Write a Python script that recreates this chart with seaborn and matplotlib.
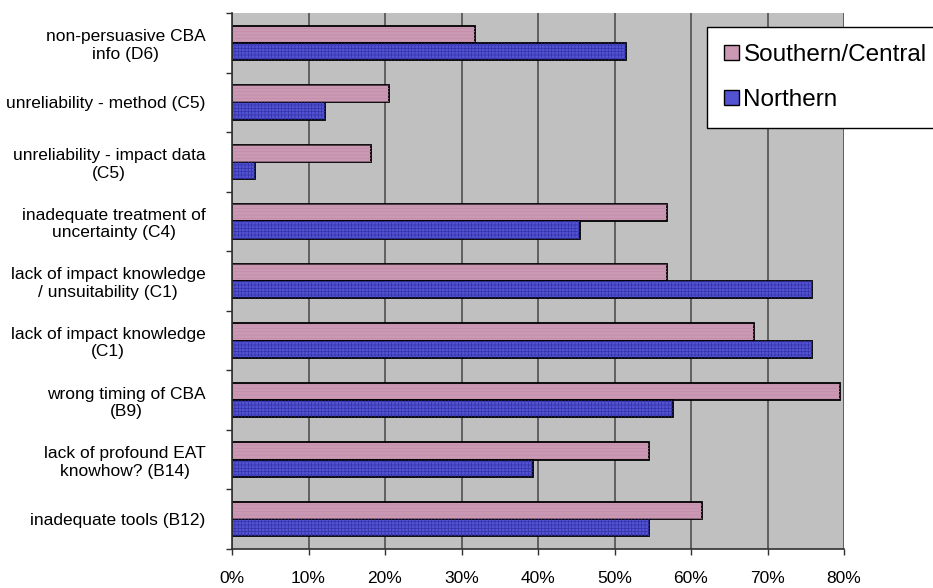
import matplotlib
matplotlib.use("Agg")
import matplotlib.pyplot as plt
import matplotlib.ticker as mticker
from matplotlib.patches import Rectangle, Patch
import seaborn as sns
import pandas as pd

# Survey results: share of respondents naming each obstacle
categories = [
    "non-persuasive CBA\ninfo (D6)",
    "unreliability - method (C5)",
    "unreliability - impact data\n(C5)",
    "inadequate treatment of\nuncertainty (C4)",
    "lack of impact knowledge\n/ unsuitability (C1)",
    "lack of impact knowledge\n(C1)",
    "wrong timing of CBA\n(B9)",
    "lack of profound EAT\nknowhow? (B14)",
    "inadequate tools (B12)",
]
southern_central = [31.8, 20.5, 18.2, 56.8, 56.8, 68.2, 79.5, 54.5, 61.4]
northern = [51.5, 12.1, 3.0, 45.5, 75.8, 75.8, 57.6, 39.4, 54.5]
series_names = ["Southern/Central", "Northern"]
x_ticks = [0, 10, 20, 30, 40, 50, 60, 70, 80]

df = pd.DataFrame({
    "obstacle": categories * 2,
    "share": southern_central + northern,
    "region": [series_names[0]] * len(categories) + [series_names[1]] * len(categories),
})

PINK = "#CC99B4"
BLUE = "#5252D2"
palette = {series_names[0]: PINK, series_names[1]: BLUE}

sns.set_theme(style="white")
plt.rcParams["font.family"] = ["Liberation Sans", "DejaVu Sans"]
plt.rcParams["text.color"] = "black"
plt.rcParams["xtick.color"] = "black"
plt.rcParams["ytick.color"] = "black"
plt.rcParams["hatch.linewidth"] = 0.5

fig = plt.figure(figsize=(9.33, 5.88), dpi=100)
ax = fig.add_axes([232 / 933, 1 - 549 / 588, (844 - 232) / 933, (549 - 13) / 588])
ax.set_facecolor("#C0C0C0")

sns.barplot(
    data=df, x="share", y="obstacle", hue="region", hue_order=series_names,
    order=categories, palette=palette, orient="h", width=0.58, saturation=1,
    edgecolor="black", linewidth=1.3, legend=False, ax=ax,
)

# fine texture on the bars, laid over each bar without its outline
texture = {PINK: ("-----", "#BF8CA8"), BLUE: ("+++++", "#3434A8")}
for bar in list(ax.patches):
    fc = matplotlib.colors.to_hex(bar.get_facecolor()).lower()
    for key, (hatch, hcol) in texture.items():
        if fc == key.lower():
            ax.add_patch(Rectangle(
                (bar.get_x(), bar.get_y()), bar.get_width(), bar.get_height(),
                facecolor="none", edgecolor=hcol, linewidth=0, hatch=hatch,
                zorder=bar.get_zorder() + 0.1,
            ))

ax.set_xlim(0, 80)
ax.set_ylim(len(categories) - 0.5, -0.5)
ax.set_xticks(x_ticks)
ax.xaxis.set_major_formatter(mticker.FuncFormatter(lambda v, p: f"{v:.0f}%"))
ax.set_xlabel("")
ax.set_ylabel("")

ax.grid(axis="x", color="#505050", linewidth=1.2)
ax.set_axisbelow(True)

# category ticks sit on the boundaries, labels in the middle
ax.set_yticks([i - 0.5 for i in range(len(categories) + 1)], minor=True)
ax.tick_params(axis="y", which="minor", left=True, length=4, width=1, color="#303030")
ax.tick_params(axis="y", which="major", left=False, length=0, pad=19, labelsize=12.5,
               labelcolor="black")
for lab in ax.get_yticklabels():
    lab.set_multialignment("center")
ax.tick_params(axis="x", which="major", bottom=True, length=4, width=1, color="#303030",
               pad=12, labelsize=12.5, labelcolor="black")

for side in ["top", "right"]:
    ax.spines[side].set_visible(False)
ax.spines["left"].set_color("#303030")
ax.spines["bottom"].set_color("#303030")
ax.spines["left"].set_linewidth(1.2)
ax.spines["bottom"].set_linewidth(1.2)

handles = [
    Patch(facecolor=PINK, edgecolor="black", linewidth=1.0),
    Patch(facecolor=BLUE, edgecolor="black", linewidth=1.0),
]
leg = fig.legend(
    handles, series_names, loc="upper left",
    bbox_to_anchor=(707 / 933, 1 - 27 / 588), bbox_transform=fig.transFigure,
    fontsize=17.5, frameon=True, fancybox=False, framealpha=1,
    edgecolor="black", handlelength=0.6, handleheight=0.6, handletextpad=0.2,
    labelspacing=0.95, borderpad=0.7, borderaxespad=0,
)
leg.get_frame().set_linewidth(1.0)
for t in leg.get_texts():
    t.set_color("black")

fig.savefig("out.png", dpi=100)
